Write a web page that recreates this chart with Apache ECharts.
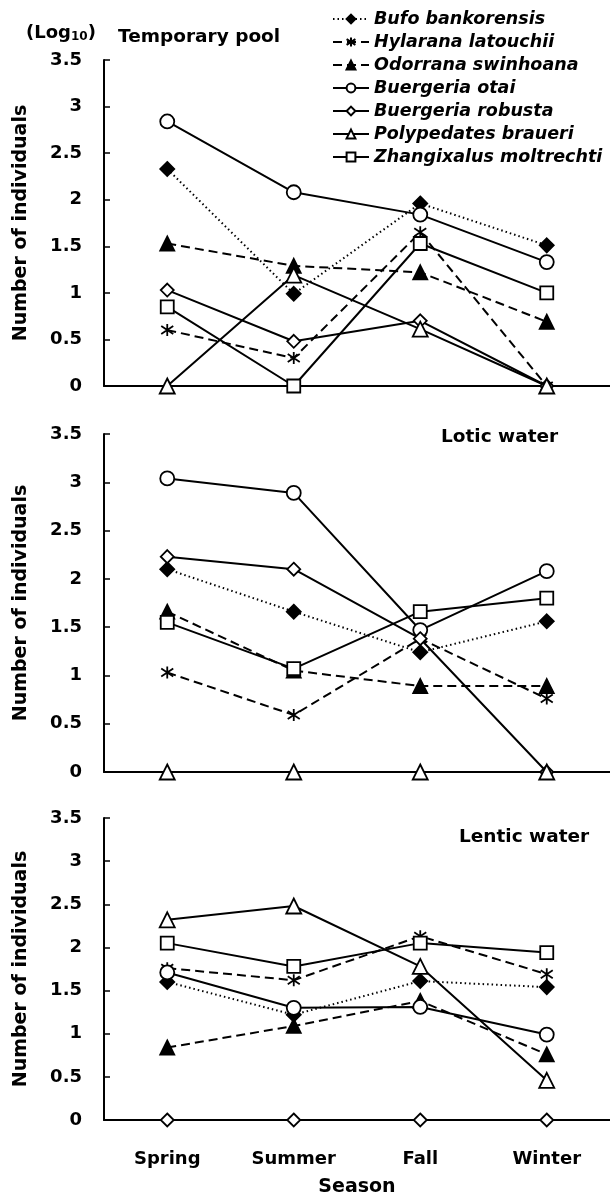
<!DOCTYPE html>
<html>
<head>
<meta charset="utf-8">
<script src="https://cdn.jsdelivr.net/npm/echarts@6/dist/echarts.min.js"></script>
<style>
  html, body { margin: 0; padding: 0; background: #fff; }
  #main { width: 610px; height: 1202px; }
</style>
</head>
<body>
<div id="main"></div>
<script>
// categories and species
var seasons = ['Spring', 'Summer', 'Fall', 'Winter'];
var species = ['Bufo bankorensis', 'Hylarana latouchii', 'Odorrana swinhoana', 'Buergeria otai',
    'Buergeria robusta', 'Polypedates braueri', 'Zhangixalus moltrechti'];
var yTicks = [0, 0.5, 1, 1.5, 2, 2.5, 3, 3.5];

// log10 counts, one row per species (same order as above)
var tempPool = [
    [2.33, 0.99, 1.96, 1.51],
    [0.60, 0.30, 1.65, 0],
    [1.53, 1.29, 1.22, 0.69],
    [2.84, 2.08, 1.84, 1.33],
    [1.03, 0.48, 0.70, 0],
    [0, 1.19, 0.61, 0],
    [0.85, 0, 1.53, 1.00]
];
var loticWater = [
    [2.10, 1.66, 1.24, 1.56],
    [1.03, 0.59, 1.38, 0.76],
    [1.66, 1.05, 0.89, 0.89],
    [3.04, 2.89, 1.47, 2.08],
    [2.23, 2.10, 1.38, 0],
    [0, 0, 0, 0],
    [1.55, 1.07, 1.66, 1.80]
];
var lenticWater = [
    [1.60, 1.22, 1.61, 1.54],
    [1.76, 1.62, 2.13, 1.69],
    [0.84, 1.09, 1.38, 0.76],
    [1.71, 1.30, 1.31, 0.99],
    [0, 0, 0, 0],
    [2.32, 2.48, 1.78, 0.46],
    [2.05, 1.78, 2.05, 1.94]
];
var panels = [tempPool, loticWater, lenticWater];

var FONT = '"DejaVu Sans", "Liberation Sans", Arial, sans-serif';

// marker / line look per species
var looks = [
    {symbol: 'diamond', size: 14, fill: '#000', dash: [1.5, 3]},
    {symbol: 'path://M5,0L5,12M0,2L10,10M10,2L0,10', size: 12, fill: 'rgba(0,0,0,0)', dash: [9, 5]},
    {symbol: 'triangle', size: 14, fill: '#000', dash: [9, 5]},
    {symbol: 'circle', size: 14, fill: '#fff', dash: 'solid'},
    {symbol: 'diamond', size: 13, fill: '#fff', dash: 'solid'},
    {symbol: 'triangle', size: 15, fill: '#fff', dash: 'solid'},
    {symbol: 'rect', size: 13, fill: '#fff', dash: 'solid'}
];

var grids = [
    {left: 104, right: 0, top: 60, height: 326},
    {left: 104, right: 0, top: 434, height: 338},
    {left: 104, right: 0, top: 818, height: 302}
];

var xAxes = [], yAxes = [], series = [];
for (var p = 0; p < 3; p++) {
    var last = p === 2;
    xAxes.push({
        type: 'category', gridIndex: p, data: seasons, boundaryGap: true,
        axisLine: {lineStyle: {color: '#000', width: 2}},
        axisTick: {inside: true, length: 6, lineStyle: {color: '#000', width: 1.5}},
        axisLabel: {show: last, color: '#000', fontFamily: FONT, fontWeight: 'bold', fontSize: 18, margin: 30},
        name: last ? 'Season' : '', nameLocation: 'middle', nameGap: 58,
        nameTextStyle: {color: '#000', fontFamily: FONT, fontWeight: 'bold', fontSize: 19}
    });
    yAxes.push({
        type: 'value', gridIndex: p, min: yTicks[0], max: yTicks[yTicks.length - 1], interval: 0.5,
        axisLine: {show: true, lineStyle: {color: '#000', width: 2}},
        axisTick: {show: true, inside: true, length: 6, lineStyle: {color: '#000', width: 1.5}},
        splitLine: {show: false},
        axisLabel: {color: '#000', fontFamily: FONT, fontWeight: 'bold', fontSize: 18, margin: 22},
        name: 'Number of individuals', nameLocation: 'middle', nameGap: 73,
        nameTextStyle: {color: '#000', fontFamily: FONT, fontWeight: 'bold', fontSize: 19}
    });
    for (var s = 0; s < species.length; s++) {
        var lk = looks[s];
        series.push({
            type: 'line', name: species[s], xAxisIndex: p, yAxisIndex: p,
            data: panels[p][s],
            symbol: lk.symbol, symbolSize: lk.size, showAllSymbol: true,
            itemStyle: {color: lk.fill, borderColor: '#000', borderWidth: 1.8},
            lineStyle: {color: '#000', width: 2, type: lk.dash},
            animation: false
        });
    }
}

var titleFont = {color: '#000', fontFamily: FONT, fontWeight: 'bold', fontSize: 18.5};

var option = {
    backgroundColor: '#fff',
    animation: false,
    title: [
        {text: '(Log{s|10})', left: 21, top: 19,
            textStyle: Object.assign({}, titleFont, {fontSize: 18, rich: {s: {fontFamily: FONT, fontWeight: 'bold', fontSize: 12, verticalAlign: 'bottom', padding: [7, 0, 0, 0]}}})},
        {text: 'Temporary pool', left: 113, top: 23, textStyle: titleFont},
        {text: 'Lotic water', left: 436, top: 423, textStyle: titleFont},
        {text: 'Lentic water', left: 454, top: 823, textStyle: titleFont}
    ],
    legend: {
        orient: 'vertical', left: 327, top: 4,
        itemWidth: 36, itemHeight: 11, itemGap: 3,
        data: species,
        textStyle: {color: '#000', fontFamily: FONT, fontWeight: 'bold', fontStyle: 'italic', fontSize: 17.5, lineHeight: 20}
    },
    grid: grids,
    xAxis: xAxes,
    yAxis: yAxes,
    series: series
};

var chart = echarts.init(document.getElementById('main'));
chart.setOption(option);
</script>
</body>
</html>
